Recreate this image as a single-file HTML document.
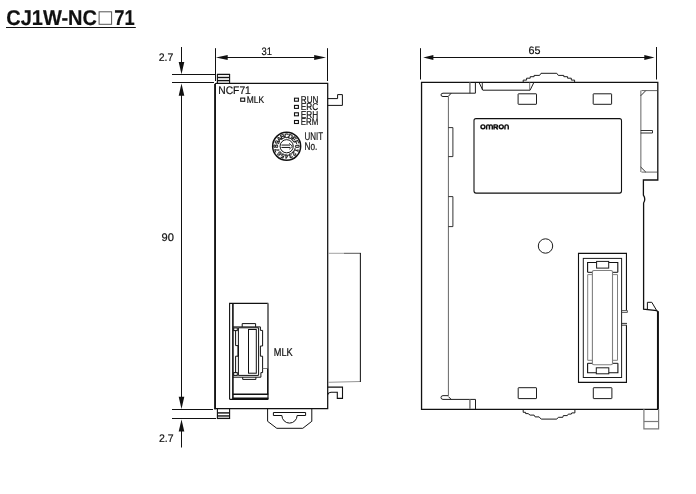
<!DOCTYPE html>
<html><head><meta charset="utf-8"><title>CJ1W-NC71</title>
<style>
html,body{margin:0;padding:0;background:#fff;}
body{width:696px;height:494px;overflow:hidden;font-family:"Liberation Sans",sans-serif;}
svg{display:block;will-change:transform;}
svg text{text-rendering:geometricPrecision;font-family:"Liberation Sans",sans-serif;fill:#111;stroke:#111;stroke-width:0.2px;}
</style></head><body>
<svg width="696" height="494" viewBox="0 0 696 494">
<rect x="0" y="0" width="696" height="494" fill="#ffffff"/>
<text x="6.2" y="24.5" font-size="21.3" text-anchor="start" font-weight="bold" textLength="90.8" lengthAdjust="spacingAndGlyphs" stroke="none">CJ1W-NC</text>
<rect x="99.1" y="11.8" width="12.5" height="12.5" rx="0" stroke="#555" stroke-width="1" fill="none"/>
<text x="114.2" y="24.5" font-size="21.3" text-anchor="start" font-weight="bold" textLength="20.4" lengthAdjust="spacingAndGlyphs" stroke="none">71</text>
<line x1="6" y1="27.5" x2="135.8" y2="27.5" stroke="#111" stroke-width="1.2"/>
<line x1="181.5" y1="47" x2="181.5" y2="64" stroke="#111" stroke-width="1"/>
<polygon points="181.5,74.2 178.7,62.0 184.3,62.0" fill="#111"/>
<line x1="172" y1="74.5" x2="216" y2="74.5" stroke="#111" stroke-width="1"/>
<line x1="172" y1="82.5" x2="214" y2="82.5" stroke="#111" stroke-width="1"/>
<polygon points="181.5,83.6 178.7,95.8 184.3,95.8" fill="#111"/>
<line x1="181.5" y1="94" x2="181.5" y2="398" stroke="#111" stroke-width="1"/>
<polygon points="181.5,409 178.7,396.8 184.3,396.8" fill="#111"/>
<line x1="172" y1="409.5" x2="213" y2="409.5" stroke="#111" stroke-width="1"/>
<line x1="172" y1="418.5" x2="216" y2="418.5" stroke="#111" stroke-width="1"/>
<polygon points="181.5,419.4 178.7,431.59999999999997 184.3,431.59999999999997" fill="#111"/>
<line x1="181.5" y1="430" x2="181.5" y2="447.5" stroke="#111" stroke-width="1"/>
<text x="158.7" y="61.0" font-size="11.1" text-anchor="start" font-weight="normal" textLength="14.6" lengthAdjust="spacingAndGlyphs" >2.7</text>
<text x="158.9" y="441.8" font-size="11.1" text-anchor="start" font-weight="normal" textLength="14.6" lengthAdjust="spacingAndGlyphs" >2.7</text>
<text x="161.5" y="241.1" font-size="11.0" text-anchor="start" font-weight="normal" textLength="12.4" lengthAdjust="spacingAndGlyphs" >90</text>
<line x1="215.5" y1="48.2" x2="215.5" y2="81" stroke="#111" stroke-width="1"/>
<line x1="327.5" y1="48.2" x2="327.5" y2="81" stroke="#111" stroke-width="1"/>
<line x1="226" y1="57.5" x2="316" y2="57.5" stroke="#111" stroke-width="1"/>
<polygon points="215.9,57.5 227.70000000000002,55.0 227.70000000000002,60.0" fill="#111"/>
<polygon points="326.0,57.5 314.2,55.0 314.2,60.0" fill="#111"/>
<text x="261.6" y="54.9" font-size="10.8" text-anchor="start" font-weight="normal" textLength="10.4" lengthAdjust="spacingAndGlyphs" >31</text>
<path d="M215.2,409.2 V84.3 Q215.2,83.3 216.2,83.3 H327.7 V408.7 H214.35" stroke="#111" stroke-width="1.25" fill="none" />
<line x1="215.05" y1="84" x2="215.05" y2="409.3" stroke="#111" stroke-width="1.7"/>
<path d="M217.4,83 V74.4 M229.6,74.4 V83" stroke="#111" stroke-width="1.1" fill="none" />
<line x1="216.9" y1="74.4" x2="230.1" y2="74.4" stroke="#111" stroke-width="1.3"/>
<line x1="217.4" y1="77.5" x2="229.6" y2="77.5" stroke="#111" stroke-width="1.4"/>
<line x1="217.4" y1="80.6" x2="229.6" y2="80.6" stroke="#111" stroke-width="1.4"/>
<path d="M217.4,409 V418.4 M229.6,409 V418.4" stroke="#111" stroke-width="1.1" fill="none" />
<line x1="216.9" y1="418.4" x2="230.1" y2="418.4" stroke="#111" stroke-width="1.3"/>
<line x1="217.4" y1="412.9" x2="229.6" y2="412.9" stroke="#111" stroke-width="1.4"/>
<line x1="217.4" y1="415.95" x2="229.6" y2="415.95" stroke="#111" stroke-width="1.4"/>
<path d="M327.7,98.6 H337.6 V94.6 H342.4 V105.4 H327.7" stroke="#111" stroke-width="1" fill="none" />
<path d="M327.7,387.1 H342.5 V398.4 H337.3 V392.3 H331 Q328.5,392.6 327.7,394.5" stroke="#111" stroke-width="1.1" fill="none" />
<line x1="328.3" y1="253.3" x2="344" y2="253.3" stroke="#999" stroke-width="0.9"/>
<line x1="344" y1="253.3" x2="360.9" y2="253.3" stroke="#444" stroke-width="0.9"/>
<line x1="328.3" y1="382.3" x2="360.4" y2="381.5" stroke="#888" stroke-width="0.9"/>
<line x1="360.4" y1="252.9" x2="360.4" y2="381.9" stroke="#222" stroke-width="1.1"/>
<text x="218.3" y="93.8" font-size="11.1" text-anchor="start" font-weight="normal" textLength="32.5" lengthAdjust="spacingAndGlyphs" >NCF71</text>
<rect x="240.7" y="98.1" width="4.0" height="3.2" rx="0" stroke="#111" stroke-width="1.1" fill="none"/>
<text x="246.8" y="102.9" font-size="9.8" text-anchor="start" font-weight="normal" textLength="17.3" lengthAdjust="spacingAndGlyphs" >MLK</text>
<rect x="294.5" y="98.2" width="3.9" height="3.0" rx="0" stroke="#111" stroke-width="1.1" fill="none"/>
<text x="300.8" y="102.9" font-size="10.0" text-anchor="start" font-weight="normal" textLength="17.5" lengthAdjust="spacingAndGlyphs" >RUN</text>
<rect x="294.5" y="105.4" width="3.9" height="3.0" rx="0" stroke="#111" stroke-width="1.1" fill="none"/>
<text x="300.8" y="110.2" font-size="10.0" text-anchor="start" font-weight="normal" textLength="17.5" lengthAdjust="spacingAndGlyphs" >ERC</text>
<rect x="294.5" y="112.8" width="3.9" height="3.0" rx="0" stroke="#111" stroke-width="1.1" fill="none"/>
<text x="300.8" y="117.5" font-size="10.0" text-anchor="start" font-weight="normal" textLength="17.5" lengthAdjust="spacingAndGlyphs" >ERH</text>
<rect x="294.5" y="120.5" width="3.9" height="3.0" rx="0" stroke="#111" stroke-width="1.1" fill="none"/>
<text x="300.8" y="124.6" font-size="10.0" text-anchor="start" font-weight="normal" textLength="17.5" lengthAdjust="spacingAndGlyphs" >ERM</text>
<text x="304.5" y="139.8" font-size="11.3" text-anchor="start" font-weight="normal" textLength="18.6" lengthAdjust="spacingAndGlyphs" >UNIT</text>
<text x="304.5" y="149.9" font-size="11.3" text-anchor="start" font-weight="normal" textLength="12.8" lengthAdjust="spacingAndGlyphs" >No.</text>
<circle cx="286.65" cy="146.25" r="14.0" stroke="#111" stroke-width="1.5" fill="none"/>
<circle cx="286.65" cy="146.25" r="6.6" stroke="#111" stroke-width="1.0" fill="none"/>
<text x="286.65" y="138.1" font-size="6.5" font-weight="bold" stroke="none" text-anchor="middle" transform="rotate(90.0 286.65 146.25)">0</text>
<text x="286.65" y="138.1" font-size="6.5" font-weight="bold" stroke="none" text-anchor="middle" transform="rotate(112.5 286.65 146.25)">1</text>
<text x="286.65" y="138.1" font-size="6.5" font-weight="bold" stroke="none" text-anchor="middle" transform="rotate(135.0 286.65 146.25)">2</text>
<text x="286.65" y="138.1" font-size="6.5" font-weight="bold" stroke="none" text-anchor="middle" transform="rotate(157.5 286.65 146.25)">3</text>
<text x="286.65" y="138.1" font-size="6.5" font-weight="bold" stroke="none" text-anchor="middle" transform="rotate(180.0 286.65 146.25)">4</text>
<text x="286.65" y="138.1" font-size="6.5" font-weight="bold" stroke="none" text-anchor="middle" transform="rotate(202.5 286.65 146.25)">5</text>
<text x="286.65" y="138.1" font-size="6.5" font-weight="bold" stroke="none" text-anchor="middle" transform="rotate(225.0 286.65 146.25)">6</text>
<text x="286.65" y="138.1" font-size="6.5" font-weight="bold" stroke="none" text-anchor="middle" transform="rotate(247.5 286.65 146.25)">7</text>
<text x="286.65" y="138.1" font-size="6.5" font-weight="bold" stroke="none" text-anchor="middle" transform="rotate(270.0 286.65 146.25)">8</text>
<text x="286.65" y="138.1" font-size="6.5" font-weight="bold" stroke="none" text-anchor="middle" transform="rotate(292.5 286.65 146.25)">9</text>
<text x="286.65" y="138.1" font-size="6.5" font-weight="bold" stroke="none" text-anchor="middle" transform="rotate(315.0 286.65 146.25)">A</text>
<text x="286.65" y="138.1" font-size="6.5" font-weight="bold" stroke="none" text-anchor="middle" transform="rotate(337.5 286.65 146.25)">B</text>
<text x="286.65" y="138.1" font-size="6.5" font-weight="bold" stroke="none" text-anchor="middle" transform="rotate(360.0 286.65 146.25)">C</text>
<text x="286.65" y="138.1" font-size="6.5" font-weight="bold" stroke="none" text-anchor="middle" transform="rotate(382.5 286.65 146.25)">D</text>
<text x="286.65" y="138.1" font-size="6.5" font-weight="bold" stroke="none" text-anchor="middle" transform="rotate(405.0 286.65 146.25)">E</text>
<text x="286.65" y="138.1" font-size="6.5" font-weight="bold" stroke="none" text-anchor="middle" transform="rotate(427.5 286.65 146.25)">F</text>
<line x1="281.45" y1="145.05" x2="290.04999999999995" y2="145.05" stroke="#111" stroke-width="1"/>
<line x1="281.45" y1="147.45" x2="290.04999999999995" y2="147.45" stroke="#111" stroke-width="1"/>
<path d="M289.25,143.25 L292.45,146.25 L289.25,149.25" stroke="#111" stroke-width="0.9" fill="none" />
<path d="M229.6,399.3 V303.4 H268.3" stroke="#111" stroke-width="1.1" fill="none" />
<line x1="268.0" y1="303.4" x2="268.0" y2="399.3" stroke="#777" stroke-width="2.0"/>
<line x1="229.6" y1="399.3" x2="268.3" y2="399.3" stroke="#111" stroke-width="1.2"/>
<line x1="232.9" y1="303.4" x2="232.9" y2="399.3" stroke="#111" stroke-width="1.6"/>
<line x1="232.9" y1="394.3" x2="268.3" y2="394.3" stroke="#111" stroke-width="1.6"/>
<line x1="232.9" y1="398.2" x2="268.3" y2="398.2" stroke="#111" stroke-width="1.4"/>
<path d="M232.9,326.9 H260.4 V330.4 H262.6 V346 H260.4 V356.2 H262.6 V372.6 H260.9 V377.2 H232.9" stroke="#111" stroke-width="1" fill="none" />
<path d="M242.2,326.9 V323.6 H255.6 V326.9" stroke="#111" stroke-width="1" fill="none" />
<path d="M242.7,377.2 V379.4 H255.9 V377.2" stroke="#111" stroke-width="1" fill="none" />
<path d="M238.4,375.4 V327.8 H258.6 V375.4 Z" stroke="#111" stroke-width="1" fill="none" />
<rect x="248.5" y="329.5" width="7.8" height="43.7" rx="0" stroke="#111" stroke-width="1" fill="none"/>
<rect x="233.7" y="327.9" width="3.6" height="2.7" rx="0" stroke="#111" stroke-width="1" fill="none"/>
<rect x="233.7" y="372.6" width="3.6" height="2.8" rx="0" stroke="#111" stroke-width="1" fill="none"/>
<path d="M235.6,330.6 V345.6 H238 M238,356.2 H235.6 V372.6" stroke="#111" stroke-width="1" fill="none" />
<line x1="238.2" y1="345.6" x2="238.2" y2="356.2" stroke="#111" stroke-width="1.5"/>
<line x1="262.8" y1="368.5" x2="268.3" y2="368.5" stroke="#7a7a7a" stroke-width="1"/>
<line x1="267.6" y1="368.5" x2="267.6" y2="394" stroke="#111" stroke-width="1.1"/>
<text x="273.7" y="355.8" font-size="11.4" text-anchor="start" font-weight="normal" textLength="19.0" lengthAdjust="spacingAndGlyphs" >MLK</text>
<path d="M267.6,409 V421.3 L276.8,428.3 H302.8 L311.8,421.3 V409" stroke="#111" stroke-width="1" fill="none" />
<path d="M273.4,412.5 H305.6 V415.5 H297.1 A7.6,7.6 0 0 1 281.9,415.5 H273.4 Z" stroke="#111" stroke-width="1" fill="none" />
<line x1="420.5" y1="48.2" x2="420.5" y2="79.5" stroke="#111" stroke-width="1"/>
<line x1="656.5" y1="47" x2="656.5" y2="79.5" stroke="#111" stroke-width="1"/>
<line x1="432" y1="57.5" x2="646" y2="57.5" stroke="#111" stroke-width="1"/>
<polygon points="423.2,57.5 433.4,55.0 433.4,60.0" fill="#111"/>
<polygon points="654.5,57.5 644.3,55.0 644.3,60.0" fill="#111"/>
<text x="528.6" y="53.9" font-size="10.9" text-anchor="start" font-weight="normal" textLength="12" lengthAdjust="spacingAndGlyphs" >65</text>
<path d="M421.55,82.4 H657.8 V180 H643.4 V195.2 Q646,199 643.6,203 V309.2 L656.8,310.6 L657.9,312 V409.35 H421.55 Z" stroke="#111" stroke-width="1.3" fill="none" />
<line x1="657.9" y1="311.2" x2="657.9" y2="409.6" stroke="#111" stroke-width="1.9"/>
<path d="M647.4,309.4 V302.3 H651.8 L656.6,310.4" stroke="#111" stroke-width="1" fill="none" />
<path d="M523.2,82 L523.2,80.1 L526.6,80.1 L526.6,78.2 L530.2,78.2 L530.2,76.7 L534.1,76.7 L534.1,75.4 L539.6,75.4 L541,73.3 L556.8,73.3 L558.3,75.4 L563.8,75.4 L563.8,76.7 L567.6,76.7 L567.6,78.2 L571.3,78.2 L571.3,80.1 L574.6,80.1 L574.6,82" stroke="#1c1c1c" stroke-width="1" fill="none" />
<path d="M523.2,409.6 L523.2,412.3 L525.6,412.3 L525.6,413.6 L528.1,413.6 L530.1,415.1 L534.1,415.1 L535.1,416.9 L539.1,416.9 L541.2,419.1 L556.8,419.1 L558.3,417.3 L562.8,417.3 L563.3,415.6 L567.3,415.6 L568.3,414.1 L571.3,414.1 L571.8,412.9 L574.9,412.9 L574.9,409.6" stroke="#1c1c1c" stroke-width="1" fill="none" />
<path d="M479,82.4 L482.8,90.2 H530.1 L533.9,82.4" stroke="#1c1c1c" stroke-width="1" fill="none" />
<line x1="482.3" y1="82.4" x2="482.3" y2="90" stroke="#1c1c1c" stroke-width="0.9"/>
<line x1="529.7" y1="82.4" x2="529.7" y2="90" stroke="#666" stroke-width="0.9"/>
<line x1="469.9" y1="82.4" x2="469.9" y2="93.2" stroke="#808080" stroke-width="1.6"/>
<path d="M475.4,82.4 V93.2 H443 Q441,93.3 441,94.9 Q441,96.5 443,96.5 H448.2 L451.2,93.2" stroke="#1c1c1c" stroke-width="1" fill="none" />
<line x1="448.4" y1="96.5" x2="448.4" y2="395.6" stroke="#666" stroke-width="1"/>
<path d="M448.4,395.65 H443 Q441,395.7 441,397.5 Q441,399.4 443,399.4 H475.5 V409 M448.4,396.6 L451.2,399.4" stroke="#1c1c1c" stroke-width="1" fill="none" />
<line x1="469.9" y1="399.4" x2="469.9" y2="409" stroke="#808080" stroke-width="1.6"/>
<path d="M448.4,127.6 H452.9 V156.6 H448.4" stroke="#1c1c1c" stroke-width="0.9" fill="none" />
<path d="M448.4,196.6 H452.9 V226.6 H448.4" stroke="#1c1c1c" stroke-width="0.9" fill="none" />
<rect x="518.1" y="93.8" width="18.4" height="10.5" rx="0.4" stroke="#1c1c1c" stroke-width="1" fill="none"/>
<rect x="593.2" y="93.8" width="18.4" height="10.5" rx="0.4" stroke="#1c1c1c" stroke-width="1" fill="none"/>
<rect x="518.2" y="387.7" width="18.3" height="10.9" rx="0.4" stroke="#1c1c1c" stroke-width="1" fill="none"/>
<rect x="593.3" y="387.7" width="18.6" height="10.9" rx="0.4" stroke="#1c1c1c" stroke-width="1" fill="none"/>
<rect x="474" y="118.6" width="147.5" height="74.5" rx="2" stroke="#111" stroke-width="1.1" fill="none"/>
<g stroke="#111" stroke-width="1.45" fill="none" stroke-linejoin="round">
<ellipse cx="482.95" cy="126.8" rx="2.0" ry="1.95"/>
<path d="M486.6,129.5 V126.5 Q486.6,124.85 488.0,124.85 Q489.45,124.85 489.45,126.5 V129.5 M489.45,126.5 Q489.45,124.85 490.9,124.85 Q492.3,124.85 492.3,126.5 V129.5"/>
<path d="M494.05,129.5 V124.85 H496.2 Q497.6,124.85 497.6,126.1 Q497.6,127.3 496.2,127.3 H494.05 M496.0,127.3 L497.7,129.5"/>
<ellipse cx="501.25" cy="126.8" rx="2.0" ry="1.95"/>
<path d="M504.95,129.5 V126.6 Q504.95,124.85 506.6,124.85 Q508.25,124.85 508.25,126.6 V129.5"/>
</g>
<circle cx="545.5" cy="246" r="7.2" stroke="#1c1c1c" stroke-width="1" fill="none"/>
<line x1="640.8" y1="90.6" x2="640.8" y2="172.1" stroke="#999" stroke-width="1.5"/>
<path d="M657,90.6 H641.5 M641.5,172.1 H657" stroke="#666" stroke-width="1.0" fill="none" />
<path d="M640.7,95.8 L645.8,90.6 M640.7,167 L645.8,172.1" stroke="#333" stroke-width="1" fill="none" />
<line x1="640.7" y1="130.5" x2="652.5" y2="130.5" stroke="#1c1c1c" stroke-width="0.9"/>
<line x1="640.7" y1="133" x2="652.5" y2="133" stroke="#1c1c1c" stroke-width="0.9"/>
<line x1="652.5" y1="130.5" x2="652.5" y2="133" stroke="#1c1c1c" stroke-width="0.9"/>
<path d="M626.45,310.6 V253.4 H578.5 V382.4 H626.45 V325.2" stroke="#111" stroke-width="1.1" fill="none" />
<rect x="583.3" y="258.4" width="38.3" height="119.1" rx="0" stroke="#1c1c1c" stroke-width="1" fill="none"/>
<path d="M587.6,272.3 V262.5 H617.8 V272.3" stroke="#111" stroke-width="1.1" fill="none" />
<path d="M587.6,272.3 H592 M612.8,272.3 H617.8" stroke="#111" stroke-width="1" fill="none" />
<rect x="596.6" y="261.4" width="12.1" height="6.7" rx="0" stroke="#1c1c1c" stroke-width="1" fill="#fff"/>
<path d="M587.6,363.3 V372.8 H617.9 V363.3" stroke="#111" stroke-width="1.1" fill="none" />
<path d="M587.6,363.3 H592 M612.8,363.3 H617.9" stroke="#111" stroke-width="1" fill="none" />
<rect x="596.3" y="367.8" width="12.5" height="6.0" rx="0" stroke="#1c1c1c" stroke-width="1" fill="#fff"/>
<rect x="592.4" y="270.5" width="20.1" height="94.2" rx="1.5" stroke="#808080" stroke-width="1.1" fill="none"/>
<path d="M587.7,274.6 H592.4 M587.7,274.6 V360.3 H592.4" stroke="#808080" stroke-width="1" fill="none" />
<path d="M617.5,274.6 H612.5 M617.5,274.6 V360.3 H612.5" stroke="#808080" stroke-width="1" fill="none" />
<path d="M621.6,310.6 H627.4 V312.4 H621.6" stroke="#444" stroke-width="0.9" fill="none" />
<path d="M621.6,323.4 H627 M621.6,325.2 H627" stroke="#1c1c1c" stroke-width="0.9" fill="none" />
<path d="M643.9,409 V428.9 H658.6 V409" stroke="#7a7a7a" stroke-width="1.2" fill="none" />
<line x1="643.9" y1="421.5" x2="658.6" y2="421.5" stroke="#7a7a7a" stroke-width="1.2"/>
</svg>
</body></html>
